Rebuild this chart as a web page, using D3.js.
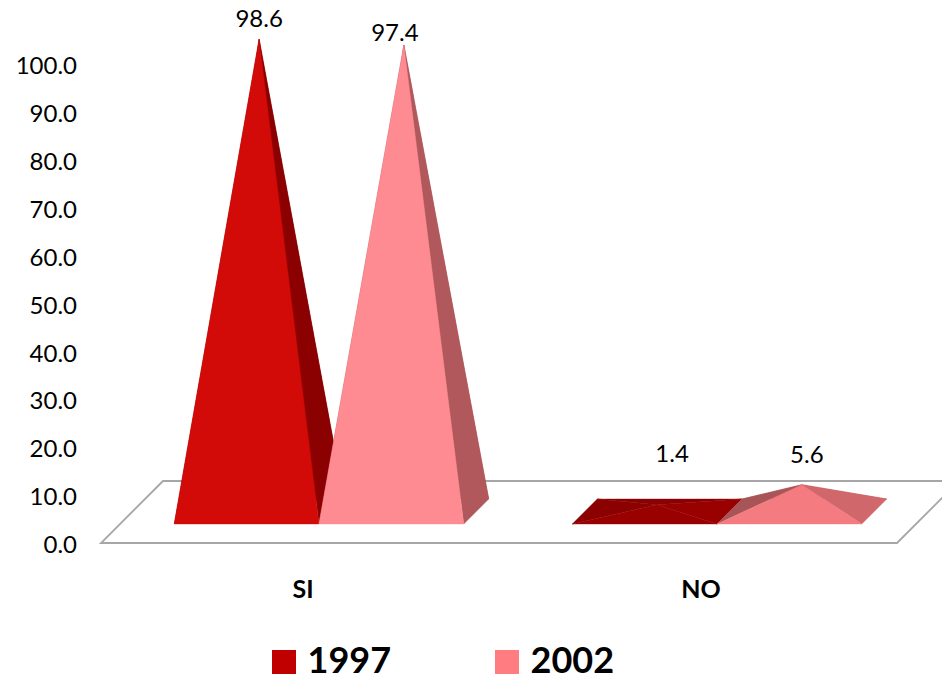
<!DOCTYPE html>
<html>
<head>
<meta charset="utf-8">
<script src="https://cdn.jsdelivr.net/npm/d3@7"></script>
<style>
  html, body { margin: 0; padding: 0; background: #fff; }
  svg { display: block; }
  text { font-family: Lato, sans-serif; fill: #000; }
</style>
</head>
<body>
<div id="container"></div>
<script>
const categories = ['SI', 'NO'];
const years = ['1997', '2002'];
const values1997 = [98.6, 1.4];
const values2002 = [97.4, 5.6];
const yTicks = [0, 10, 20, 30, 40, 50, 60, 70, 80, 90, 100];

// faces are shaded differently on the tall and the flat pyramids
const legendColors = ['#c00000', '#ff7c80'];
const frontColors = [['#d20b08', '#990000'], ['#ff8b92', '#f47b80']];
const rightColors = [['#8b0000', '#990000'], ['#b0585c', '#d0686b']];
const leftColors = [['#8b0000', '#8b0000'], ['#b0585c', '#a85558']];
// hand placed labels in the original, relative to the apex
const labelDx = [[0, 15], [-9, 5]];
const labelDy = [[-12, -43], [-4, -22]];

const series = [values1997, values2002];
const width = 942;
const height = 680;
const depth = 62;      // floor depth on screen
const baseDepth = 25;  // pyramid base depth on screen
const inset = 19;      // front of the bases behind the front of the floor

const svg = d3.select('#container').append('svg')
    .attr('width', width)
    .attr('height', height);

const x0 = d3.scaleBand().domain(categories).range([101, 897]);
const x1 = d3.scaleBand().domain(years).range([0, 289.5]);
const y = d3.scaleLinear().domain([0, 100]).range([543, 64]);

const line = d3.line();

// floor
svg.append('path')
    .attr('d', line([[101, y(0)], [897, y(0)], [897 + depth, y(0) - depth], [101 + depth, y(0) - depth]]) + 'Z')
    .style('fill', '#fff')
    .style('stroke', '#a6a6a6')
    .style('stroke-width', 1.8);

// value axis
const axis = d3.axisLeft(y)
    .tickValues(yTicks)
    .tickSize(0)
    .tickPadding(0)
    .tickFormat(d3.format('.1f'));

const ag = svg.append('g')
    .attr('transform', 'translate(77 2)')
    .call(axis);
ag.select('.domain').remove();
ag.selectAll('text').style('font-size', '24px').style('font-family', 'Lato, sans-serif');

// pyramids
function face(g, pts, color) {
    g.append('path')
        .attr('d', line(pts) + 'Z')
        .style('fill', color)
        .style('stroke', color)
        .style('stroke-width', 0.4)
        .style('stroke-linejoin', 'round');
}

years.forEach((yr, s) => {
    categories.forEach((cat, c) => {
        const left = x0(cat) + x0.bandwidth() / 2 + inset - x1.range()[1] / 2 + x1(yr);
        const right = left + x1.bandwidth();
        const front = y(0) - inset;
        const back = front - baseDepth;
        const apex = [(left + right) / 2 + baseDepth / 2, front - baseDepth / 2 - (y(0) - y(series[s][c]))];
        const g = svg.append('g');

        face(g, [[left + baseDepth, back], [right + baseDepth, back], apex], leftColors[s][c]);
        face(g, [[left, front], [left + baseDepth, back], apex], leftColors[s][c]);
        face(g, [[right, front], [right + baseDepth, back], apex], rightColors[s][c]);
        face(g, [[left, front], [right, front], apex], frontColors[s][c]);

        svg.append('text')
            .attr('x', apex[0] + labelDx[s][c])
            .attr('y', apex[1] + labelDy[s][c])
            .attr('text-anchor', 'middle')
            .style('font-size', '24px')
            .text(series[s][c].toFixed(1));
    });
});

// category labels
categories.forEach(cat => {
    svg.append('text')
        .attr('x', x0(cat) + x0.bandwidth() / 2 + 3)
        .attr('y', 598)
        .attr('text-anchor', 'middle')
        .style('font-size', '25px')
        .style('font-weight', 700)
        .text(cat);
});

// legend
const legendX = d3.scalePoint().domain(years).range([272, 495]);
years.forEach((yr, s) => {
    svg.append('rect')
        .attr('x', legendX(yr))
        .attr('y', 650)
        .attr('width', 24)
        .attr('height', 24)
        .style('fill', legendColors[s]);
    svg.append('text')
        .attr('x', legendX(yr) + 35.5)
        .attr('y', 672.5)
        .style('font-size', '36px')
        .style('font-weight', 700)
        .text(yr);
});
</script>
</body>
</html>
